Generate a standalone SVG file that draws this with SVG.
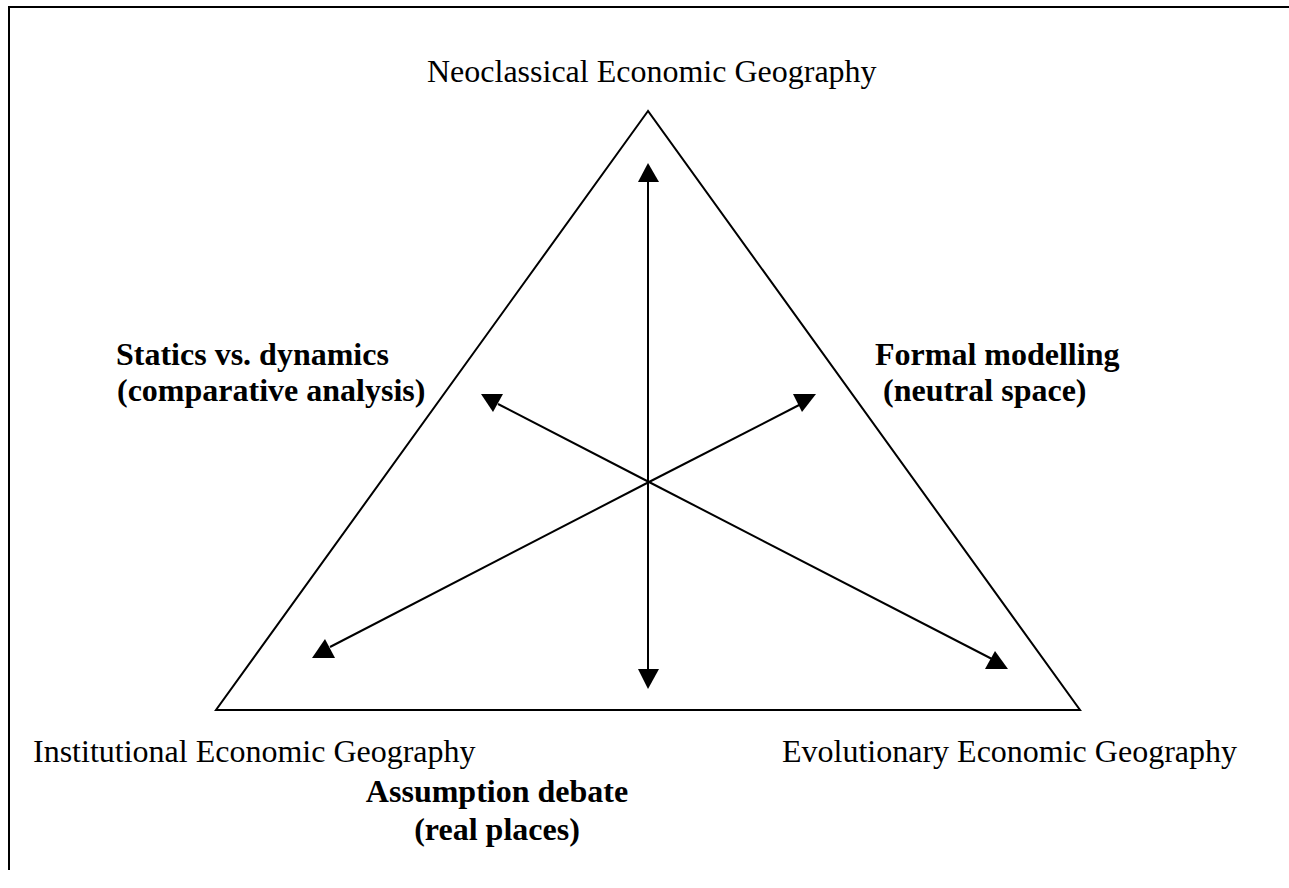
<svg xmlns="http://www.w3.org/2000/svg" width="1289" height="888" viewBox="0 0 1289 888">
<style>
.lbl{font-family:"Liberation Serif","Times New Roman",serif;font-size:32px;fill:#000}
.b{font-weight:bold}
.ln{stroke:#000;stroke-width:2;fill:none}
.ah{fill:#000;stroke:none}
</style>
<rect width="1289" height="888" fill="#fff"/>
<polyline class="ln" points="9,870 9,7 1289,7" stroke-width="2.5"/>
<g id="triangle">
<polygon class="ln" points="648,111 216,710 1080,710"/>
</g>
<g id="connectors">
<line class="ln" x1="648" y1="180" x2="648" y2="672"/>
<line class="ln" x1="649" y1="482" x2="498" y2="404"/>
<line class="ln" x1="649" y1="482" x2="803" y2="403"/>
<line class="ln" x1="649" y1="482" x2="330" y2="647"/>
<line class="ln" x1="649" y1="482" x2="992" y2="659"/>
<polygon class="ah" points="648,163 638,182 659,182"/>
<polygon class="ah" points="648,689 638,669 659,669"/>
<polygon class="ah" points="481,394 503,394 493,412"/>
<polygon class="ah" points="793,394 816,394 802,412"/>
<polygon class="ah" points="325,639 312,658 335,658"/>
<polygon class="ah" points="995,651 985,669 1008,669"/>
</g>
<g id="node-neoclassical"><text class="lbl" x="427" y="82">Neoclassical Economic Geography</text></g>
<g id="node-institutional"><text class="lbl" x="33" y="762">Institutional Economic Geography</text></g>
<g id="node-evolutionary"><text class="lbl" x="782" y="762">Evolutionary Economic Geography</text></g>
<g id="label-statics"><text class="lbl b" x="116" y="365">Statics vs. dynamics</text><text class="lbl b" x="117" y="401">(comparative analysis)</text></g>
<g id="label-formal"><text class="lbl b" x="875" y="365">Formal modelling</text><text class="lbl b" x="883" y="401">(neutral space)</text></g>
<g id="label-assumption"><text class="lbl b" x="497" y="802" text-anchor="middle">Assumption debate</text><text class="lbl b" x="497" y="840" text-anchor="middle">(real places)</text></g>
</svg>
